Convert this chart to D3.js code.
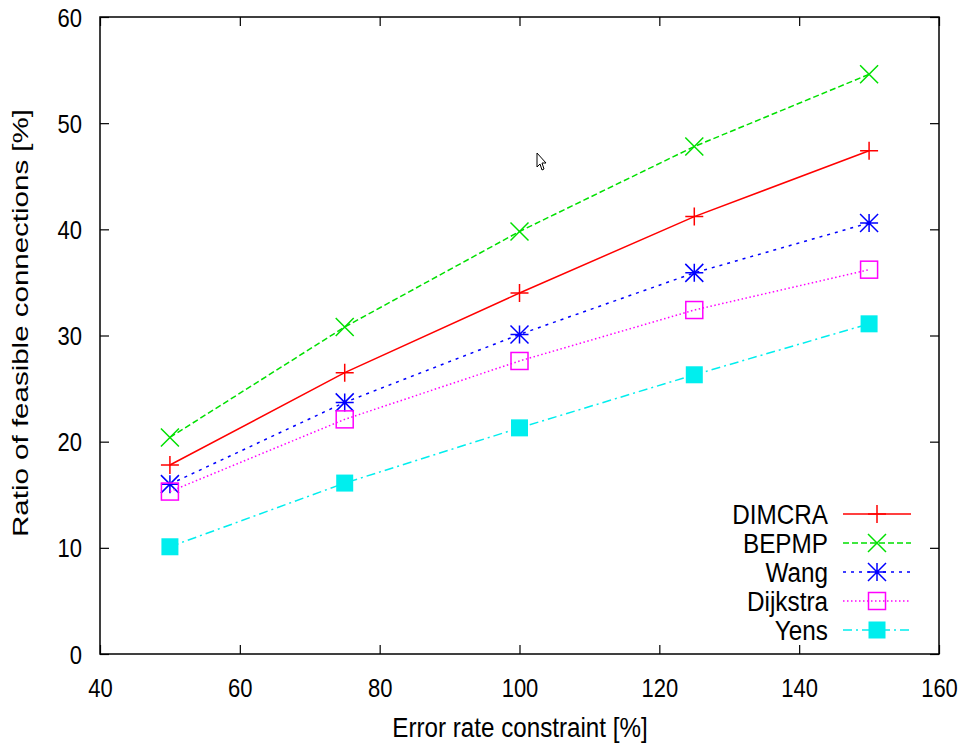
<!DOCTYPE html>
<html>
<head>
<meta charset="utf-8">
<script src="https://cdn.jsdelivr.net/npm/d3@7"></script>
<style>
body { margin: 0; background: #fff; }
text { font-family: "Liberation Sans", Arial, sans-serif; fill: #000; }
</style>
</head>
<body>
<div id="canvas"></div>
<script>
// ----------------------------------------------------------
// DATA -----------------------------------------------------
// ----------------------------------------------------------
var x_values = [50, 75, 100, 125, 150];
var series_names = ["DIMCRA", "BEPMP", "Wang", "Dijkstra", "Yens"];
var dimcra = [17.8, 26.5, 34.0, 41.2, 47.4];
var bepmp = [20.4, 30.8, 39.8, 47.8, 54.6];
var wang = [16.0, 23.7, 30.1, 35.9, 40.6];
var dijkstra = [15.3, 22.1, 27.6, 32.4, 36.2];
var yens = [10.1, 16.1, 21.3, 26.3, 31.1];
var x_ticks = [40, 60, 80, 100, 120, 140, 160];
var y_ticks = [0, 10, 20, 30, 40, 50, 60];

var all_series = [dimcra, bepmp, wang, dijkstra, yens];

// ----------------------------------------------------------
// STRUCTURE ------------------------------------------------
// ----------------------------------------------------------
var width = 967, height = 744;
var plot = { left: 100, right: 939, top: 17, bottom: 654 };
// the original picture is squeezed sideways, so text is narrowed
var squeeze = 0.88;

var svg = d3.select("#canvas").append("svg")
  .attr("width", width)
  .attr("height", height)
  .style("background-color", "#fff");

var xScale = d3.scaleLinear().domain([40, 160]).range([plot.left, plot.right]);
var yScale = d3.scaleLinear().domain([0, 60]).range([plot.bottom, plot.top]);

// style per series
var styles = [
  { color: "#ff0000", dash: null, marker: "plus" },
  { color: "#00e000", dash: "6,3", marker: "cross" },
  { color: "#0000ff", dash: "3,5", marker: "star" },
  { color: "#ff00ff", dash: "1.5,2.5", marker: "box" },
  { color: "#00eeee", dash: "9,4,2,4", marker: "fbox" }
];

// ----------------------------------------------------------
// AXES -----------------------------------------------------
// ----------------------------------------------------------
var tickLen = 9;
var axes = svg.append("g").attr("class", "axes");

// bottom + top ticks
axes.append("g")
  .attr("transform", "translate(0," + plot.bottom + ")")
  .call(d3.axisBottom(xScale).tickValues(x_ticks).tickSizeInner(-tickLen).tickSizeOuter(0))
  .call(customAxis)
  .call(function(g) {
    g.selectAll(".tick text")
      .attr("y", 43).attr("dy", 0)
      .attr("transform", "scale(" + squeeze + ",1)");
  });
axes.append("g")
  .attr("transform", "translate(0," + plot.top + ")")
  .call(d3.axisTop(xScale).tickValues(x_ticks).tickSizeInner(-tickLen).tickSizeOuter(0))
  .call(function(g) { customAxis(g); g.selectAll("text").remove(); });
// left + right ticks
axes.append("g")
  .attr("transform", "translate(" + plot.left + ",0)")
  .call(d3.axisLeft(yScale).tickValues(y_ticks).tickSizeInner(-tickLen).tickSizeOuter(0))
  .call(customAxis)
  .call(function(g) {
    g.selectAll(".tick text")
      .attr("x", -18 / squeeze).attr("dy", "0.36em")
      .attr("transform", "scale(" + squeeze + ",1)");
  });
axes.append("g")
  .attr("transform", "translate(" + plot.right + ",0)")
  .call(d3.axisRight(yScale).tickValues(y_ticks).tickSizeInner(-tickLen).tickSizeOuter(0))
  .call(function(g) { customAxis(g); g.selectAll("text").remove(); });

function customAxis(g) {
  g.select(".domain").remove();
  g.selectAll(".tick line").attr("stroke", "#000").attr("stroke-width", 1.2);
  g.selectAll(".tick text")
    .attr("fill", "#000")
    .style("font-size", "25px")
    .style("font-family", "'Liberation Sans', Arial, sans-serif");
}

// frame
axes.append("rect")
  .attr("x", plot.left)
  .attr("y", plot.top)
  .attr("width", plot.right - plot.left)
  .attr("height", plot.bottom - plot.top)
  .attr("fill", "none")
  .attr("stroke", "#000")
  .attr("stroke-width", 1.5);

// axis titles
svg.append("text")
  .attr("transform", "translate(" + 520 + ",737) scale(" + squeeze + ",1)")
  .attr("text-anchor", "middle")
  .style("font-size", "27.5px")
  .text("Error rate constraint [%]");
svg.append("text")
  .attr("transform", "translate(28," + 323 + ") rotate(-90) scale(1.18," + 0.88 + ")")
  .attr("text-anchor", "middle")
  .style("font-size", "25px")
  .text("Ratio of feasible connections [%]");

// ----------------------------------------------------------
// GFX ------------------------------------------------------
// ----------------------------------------------------------
var line = d3.line()
  .x(function(d, i) { return xScale(x_values[i]); })
  .y(function(d) { return yScale(d); });

var gfx = svg.append("g").attr("class", "gfx");

function drawMarker(g, type, color, cx, cy) {
  var s = 9;
  if (type == "plus") {
    g.append("path").attr("d", "M" + (cx - s) + "," + cy + "H" + (cx + s) + "M" + cx + "," + (cy - s) + "V" + (cy + s))
      .attr("stroke", color).attr("stroke-width", 1.5).attr("fill", "none");
  } else if (type == "cross") {
    g.append("path").attr("d", "M" + (cx - s) + "," + (cy - s) + "L" + (cx + s) + "," + (cy + s) + "M" + (cx - s) + "," + (cy + s) + "L" + (cx + s) + "," + (cy - s))
      .attr("stroke", color).attr("stroke-width", 1.5).attr("fill", "none");
  } else if (type == "star") {
    g.append("path").attr("d",
      "M" + (cx - s) + "," + cy + "H" + (cx + s) + "M" + cx + "," + (cy - s) + "V" + (cy + s) +
      "M" + (cx - s) + "," + (cy - s) + "L" + (cx + s) + "," + (cy + s) + "M" + (cx - s) + "," + (cy + s) + "L" + (cx + s) + "," + (cy - s))
      .attr("stroke", color).attr("stroke-width", 1.5).attr("fill", "none");
  } else if (type == "box") {
    g.append("rect").attr("x", cx - 8.5).attr("y", cy - 8.5).attr("width", 17).attr("height", 17)
      .attr("stroke", color).attr("stroke-width", 1.5).attr("fill", "none");
  } else if (type == "fbox") {
    g.append("rect").attr("x", cx - 8.5).attr("y", cy - 8.5).attr("width", 17).attr("height", 17)
      .attr("fill", color);
  }
}

all_series.forEach(function(vals, k) {
  var st = styles[k];
  var grp = gfx.append("g").attr("class", "series_" + series_names[k]);
  grp.append("path")
    .datum(vals)
    .attr("d", line)
    .attr("fill", "none")
    .attr("stroke", st.color)
    .attr("stroke-width", 1.5)
    .attr("stroke-dasharray", st.dash);
  vals.forEach(function(v, i) {
    drawMarker(grp, st.marker, st.color, xScale(x_values[i]), yScale(v));
  });
});

// ----------------------------------------------------------
// LEGEND ---------------------------------------------------
// ----------------------------------------------------------
var legend = svg.append("g").attr("class", "legend");
series_names.forEach(function(name, k) {
  var st = styles[k];
  var ly = 514 + k * 29;
  legend.append("text")
    .attr("transform", "translate(828," + (ly + 9.5) + ") scale(" + 0.9 + ",1)")
    .attr("text-anchor", "end")
    .style("font-size", "27px")
    .text(name);
  legend.append("line")
    .attr("x1", 843).attr("x2", 911)
    .attr("y1", ly).attr("y2", ly)
    .attr("stroke", st.color)
    .attr("stroke-width", 1.5)
    .attr("stroke-dasharray", st.dash);
  drawMarker(legend, st.marker, st.color, 877, ly);
});

// mouse pointer captured in the screenshot
svg.append("path")
  .attr("d", "M537,153 L537,167 L540,164 L542,170 L544,169 L542,163 L546,163 Z")
  .attr("fill", "#fff")
  .attr("stroke", "#000")
  .attr("stroke-width", 1);
</script>
</body>
</html>
